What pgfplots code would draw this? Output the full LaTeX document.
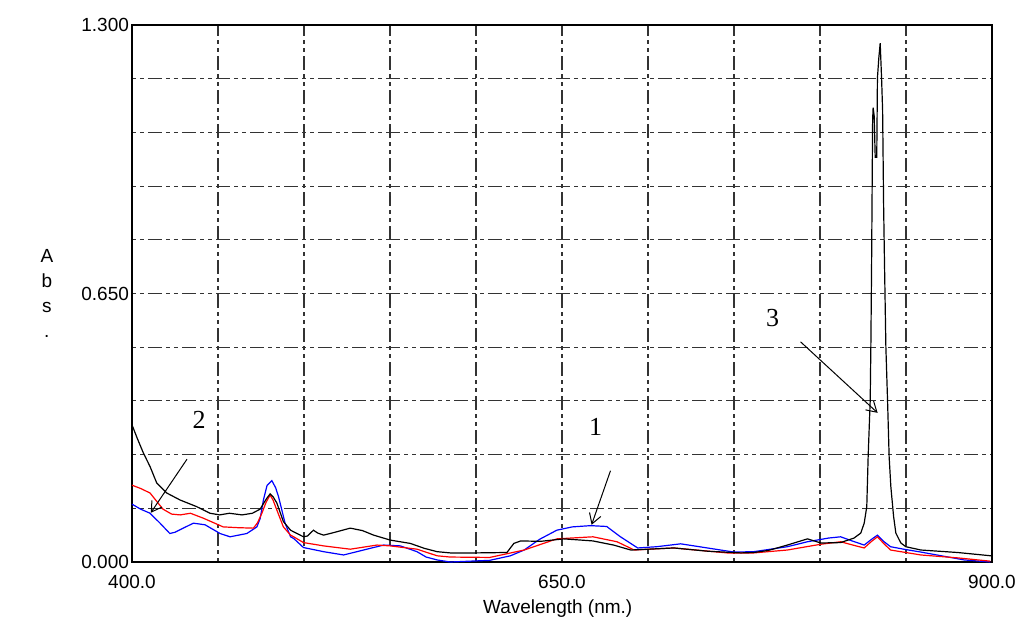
\documentclass[border=0pt]{standalone}
\usepackage{fontspec}
\setmainfont{Liberation Sans}
\newfontfamily\serifnum{Liberation Serif}
\usepackage{pgfplots}
\pgfplotsset{compat=1.18}
\usetikzlibrary{arrows.meta}

\begin{document}
\begin{tikzpicture}
\useasboundingbox (-66pt,-29.5pt) rectangle (442.5pt,281pt);
\begin{axis}[
  at={(0,0)}, anchor=south west,
  scale only axis, width=430pt, height=268.5pt,
  xmin=400, xmax=900, ymin=0, ymax=1.3,
  xtick={400,450,...,900},
  xticklabels={400.0,,,,,650.0,,,,,900.0},
  ytick={0,0.13,0.26,0.39,0.52,0.65,0.78,0.91,1.04,1.17,1.3},
  yticklabels={0.000,,,,,0.650,,,,,1.300},
  major tick length=0pt,
  /pgf/number format/assume math mode=true,
  tick label style={font=\fontsize{9.5}{11}\selectfont},
  xticklabel style={yshift=-3pt},
  yticklabel style={xshift=2pt},
  grid=major,
  major grid style={color=black!80, line width=0.55pt, dash pattern=on 2pt off 2pt on 2pt off 2pt on 7pt off 2pt},
  axis line style={line width=0.9pt},
  xlabel={Wavelength (nm.)},
  every axis x label/.style={at={(rel axis cs:0.495,0)}, anchor=center, yshift=-23.5pt, font=\fontsize{9.5}{11}\selectfont},
  ylabel={A\\b\\s\\.},
  every axis y label/.style={at={(rel axis cs:-0.099,0.5)}, anchor=center, align=center, font=\fontsize{9.5}{12.5}\selectfont},
  clip=false,
]
% series 1 (blue)
\addplot[blue, line width=0.6pt] coordinates {
(400,0.140)(405,0.128)(410.5,0.118)(416.3,0.094)(422,0.069)(425,0.072)(429.8,0.082)(435.7,0.094)(442.5,0.090)(451.2,0.069)(457,0.061)(466.8,0.069)(472.6,0.085)(474.5,0.105)(476.4,0.150)(478.5,0.185)(481.3,0.197)(483.5,0.180)(485.2,0.158)(489,0.094)(492.2,0.061)(494,0.057)(499.7,0.035)(511.4,0.025)(523,0.017)(534.6,0.029)(546.3,0.041)(556,0.039)(565.7,0.025)(571,0.012)(577.4,0.005)(585,0.0)(608,0.004)(620,0.015)(628,0.029)(637,0.055)(647,0.077)(656,0.085)(666.6,0.088)(676,0.086)(684,0.061)(694,0.034)(705,0.037)(719,0.044)(734.5,0.034)(750,0.024)(761.5,0.025)(781,0.037)(792.7,0.049)(805,0.058)(812,0.061)(818,0.052)(825.7,0.041)(830,0.055)(833.4,0.065)(837,0.050)(841,0.037)(850,0.030)(858.7,0.024)(883.8,0.005)(899,0.0)
};
% series 2 (red)
\addplot[red, line width=0.6pt] coordinates {
(400,0.186)(405,0.178)(410.5,0.167)(418,0.128)(423,0.116)(428,0.114)(434,0.118)(441.5,0.106)(453,0.085)(462,0.083)(470.6,0.082)(473,0.095)(475.5,0.118)(478,0.145)(480.3,0.162)(482,0.150)(484.2,0.126)(488,0.085)(492.2,0.065)(494,0.061)(499.7,0.047)(511.4,0.039)(526.9,0.031)(542.4,0.041)(550.2,0.039)(565.7,0.031)(577.4,0.015)(585,0.012)(608,0.011)(628,0.029)(647,0.056)(668,0.061)(682,0.049)(692,0.029)(715,0.034)(746,0.022)(761.5,0.022)(781,0.029)(800.5,0.043)(812,0.049)(820,0.040)(825.7,0.034)(830,0.050)(833.4,0.061)(837,0.045)(841,0.029)(858.7,0.017)(880,0.010)(899,0.002)
};
% series 3 (black)
\addplot[black, line width=0.6pt] coordinates {
(400,0.332)(403,0.300)(406.6,0.264)(410.5,0.231)(414.4,0.191)(420.2,0.167)(428,0.150)(437.6,0.134)(445.4,0.118)(451,0.114)(456.6,0.118)(464,0.114)(470,0.118)(474.5,0.128)(478,0.152)(480.3,0.165)(482,0.158)(484.2,0.143)(488,0.098)(492.2,0.077)(494,0.073)(499.7,0.061)(502,0.063)(505.5,0.077)(508,0.070)(511.4,0.065)(518,0.072)(526.9,0.082)(534,0.076)(540.5,0.065)(550.2,0.053)(561.8,0.045)(570,0.033)(577.4,0.025)(585,0.022)(600,0.022)(618,0.023)(622,0.045)(626,0.051)(637.5,0.050)(651,0.056)(668,0.051)(680,0.041)(690,0.029)(715,0.034)(735,0.026)(754,0.022)(761.5,0.023)(770,0.028)(781,0.041)(792.7,0.056)(800.5,0.046)(812,0.047)(819.8,0.058)(823.7,0.070)(825.7,0.094)(827.2,0.134)(828.0,0.255)(829.2,0.392)(829.6,0.533)(830.0,0.72)(830.6,1.07)(830.9,1.10)(831.5,1.08)(832.1,0.98)(833.0,0.98)(833.4,1.172)(834.2,1.22)(835.0,1.256)(835.8,1.172)(836.4,1.094)(837.0,0.86)(837.5,0.724)(838.3,0.521)(839.3,0.388)(840.2,0.255)(841.2,0.182)(842.8,0.110)(844.1,0.070)(847.0,0.046)(849.9,0.037)(858.7,0.029)(880,0.023)(899.4,0.015)
};
% annotations
\node[font=\serifnum\fontsize{13}{15}\selectfont] at (axis cs:439,0.344) {2};
\draw[line width=0.5pt, -{Straight Barb[length=5pt,width=6pt]}] (axis cs:432,0.249) -- (axis cs:410.9,0.119);
\node[font=\serifnum\fontsize{13}{15}\selectfont] at (axis cs:669.5,0.327) {1};
\draw[line width=0.5pt, -{Straight Barb[length=5pt,width=6pt]}] (axis cs:678.2,0.221) -- (axis cs:667.2,0.090);
\node[font=\serifnum\fontsize{13}{15}\selectfont] at (axis cs:772.5,0.591) {3};
\draw[line width=0.5pt, -{Straight Barb[length=5pt,width=6pt]}] (axis cs:788.7,0.533) -- (axis cs:833.5,0.361);
\end{axis}
\end{tikzpicture}
\end{document}
